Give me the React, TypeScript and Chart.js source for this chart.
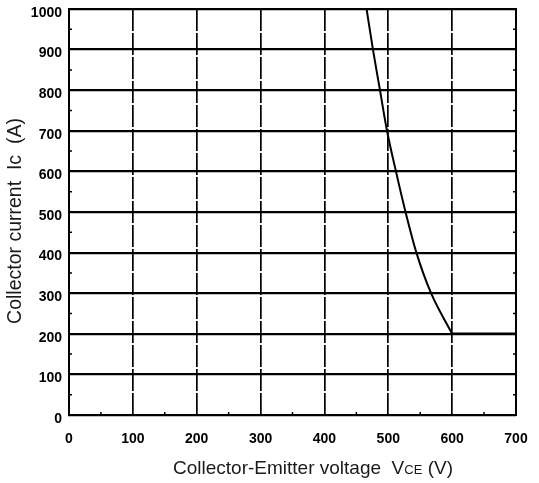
import { useEffect, useRef } from "react";
import { Chart, registerables } from "chart.js";

Chart.register(...registerables);

// Data
const curveVoltage = [466, 476, 487, 498, 512, 527, 544, 567, 600];
const curveCurrent = [1000, 900, 800, 700, 600, 500, 400, 300, 200];
const flatVoltage = [600, 700];
const flatCurrent = [200, 200];

const xTickValues = [0, 100, 200, 300, 400, 500, 600, 700];
const yTickValues = [0, 100, 200, 300, 400, 500, 600, 700, 800, 900, 1000];
const minorYValues = [50, 150, 250, 350, 450, 550, 650, 750, 850, 950];
const minorXValues = [50, 150, 250, 350, 450, 550, 650];

const xTitleMain = "Collector-Emitter voltage  V";
const xTitleSub = "CE";
const xTitleEnd = " (V)";
const yTitle = "Collector current  Ic  (A)";

const FONT = "'Liberation Sans', Arial, Helvetica, sans-serif";

const decorPlugin = {
  id: "decor",
  afterDraw(chart: any) {
    const ctx: CanvasRenderingContext2D = chart.ctx;
    const xs = chart.scales.x;
    const ys = chart.scales.y;
    const area = chart.chartArea;
    ctx.save();
    // minor ticks
    ctx.strokeStyle = "#000";
    ctx.lineWidth = 1.5;
    ctx.beginPath();
    for (const v of minorYValues) {
      const py = ys.getPixelForValue(v);
      ctx.moveTo(area.left, py);
      ctx.lineTo(area.left + 3, py);
      ctx.moveTo(area.right - 3, py);
      ctx.lineTo(area.right, py);
    }
    for (const v of minorXValues) {
      const px = xs.getPixelForValue(v);
      ctx.moveTo(px, area.bottom);
      ctx.lineTo(px, area.bottom - 3);
    }
    ctx.stroke();

    // x-axis title with small-caps "CE"
    ctx.fillStyle = "#1a1a1a";
    ctx.textBaseline = "alphabetic";
    ctx.textAlign = "left";
    const big = `19px ${FONT}`;
    const small = `13px ${FONT}`;
    ctx.font = big;
    const w1 = ctx.measureText(xTitleMain).width;
    const w3 = ctx.measureText(xTitleEnd).width;
    ctx.font = small;
    const w2 = ctx.measureText(xTitleSub).width;
    const total = w1 + w2 + w3;
    const cx = 313;
    const baseY = 474;
    let x = cx - total / 2;
    ctx.font = big;
    ctx.fillText(xTitleMain, x, baseY);
    x += w1;
    ctx.font = small;
    ctx.fillText(xTitleSub, x, baseY);
    x += w2;
    ctx.font = big;
    ctx.fillText(xTitleEnd, x, baseY);

    // y-axis title
    ctx.translate(16, 221);
    ctx.rotate(-Math.PI / 2);
    ctx.textAlign = "center";
    ctx.textBaseline = "middle";
    ctx.font = `19.5px ${FONT}`;
    ctx.fillText(yTitle, 0, 0);
    ctx.restore();
  },
};

export default function App() {
  const ref = useRef<HTMLCanvasElement | null>(null);

  useEffect(() => {
    if (!ref.current) return;
    const chart = new Chart(ref.current, {
      type: "scatter",
      data: {
        datasets: [
          {
            data: curveVoltage.map((v, i) => ({ x: v, y: curveCurrent[i] })),
            showLine: true,
            borderColor: "#000",
            borderWidth: 2,
            pointRadius: 0,
            cubicInterpolationMode: "monotone",
          },
          {
            data: flatVoltage.map((v, i) => ({ x: v, y: flatCurrent[i] })),
            showLine: true,
            borderColor: "#000",
            borderWidth: 2.4,
            pointRadius: 0,
          },
        ],
      },
      options: {
        responsive: false,
        animation: false,
        events: [],
        layout: { padding: { top: 9, right: 23, bottom: 0, left: 0 } },
        plugins: {
          legend: { display: false },
          tooltip: { enabled: false },
          title: { display: false },
        },
        scales: {
          x: {
            type: "linear",
            min: 0,
            max: 700,
            afterBuildTicks: (s: any) => {
              s.ticks = xTickValues.map((v) => ({ value: v }));
            },
            afterFit: (s: any) => {
              s.height = 68;
              s.paddingLeft = 0;
              s.paddingRight = 0;
            },
            ticks: {
              color: "#000",
              font: { family: FONT, size: 14, weight: "bold" },
              padding: 16,
              maxRotation: 0,
              autoSkip: false,
              callback: (v: any) => String(v),
            },
            grid: { color: "#000", lineWidth: 1.7, drawTicks: false },
            border: { display: true, color: "#000", width: 2, dash: [22, 2] },
          },
          y: {
            type: "linear",
            min: 0,
            max: 1000,
            afterBuildTicks: (s: any) => {
              s.ticks = yTickValues.map((v) => ({ value: v }));
            },
            afterFit: (s: any) => {
              s.width = 69;
              s.paddingTop = 0;
              s.paddingBottom = 0;
            },
            ticks: {
              color: "#000",
              font: { family: FONT, size: 14, weight: "bold" },
              padding: 7,
              labelOffset: 4,
              autoSkip: false,
              callback: (v: any) => String(v),
            },
            grid: { color: "#000", lineWidth: 2.2, drawTicks: false },
            border: { display: true, color: "#000", width: 2 },
          },
          y2: {
            type: "linear",
            position: "right",
            min: 0,
            max: 1000,
            afterFit: (s: any) => {
              s.width = 0;
              s.paddingTop = 0;
              s.paddingBottom = 0;
            },
            ticks: { display: false },
            grid: { display: false, drawTicks: false },
            border: { display: true, color: "#000", width: 2 },
          },
        },
      },
      plugins: [decorPlugin],
    } as any);
    return () => chart.destroy();
  }, []);

  return (
    <div style={{ position: "absolute", left: 0, top: 0, width: 539, height: 483, background: "#fff" }}>
      <canvas ref={ref} width={539} height={483} style={{ width: 539, height: 483, display: "block" }} />
    </div>
  );
}
